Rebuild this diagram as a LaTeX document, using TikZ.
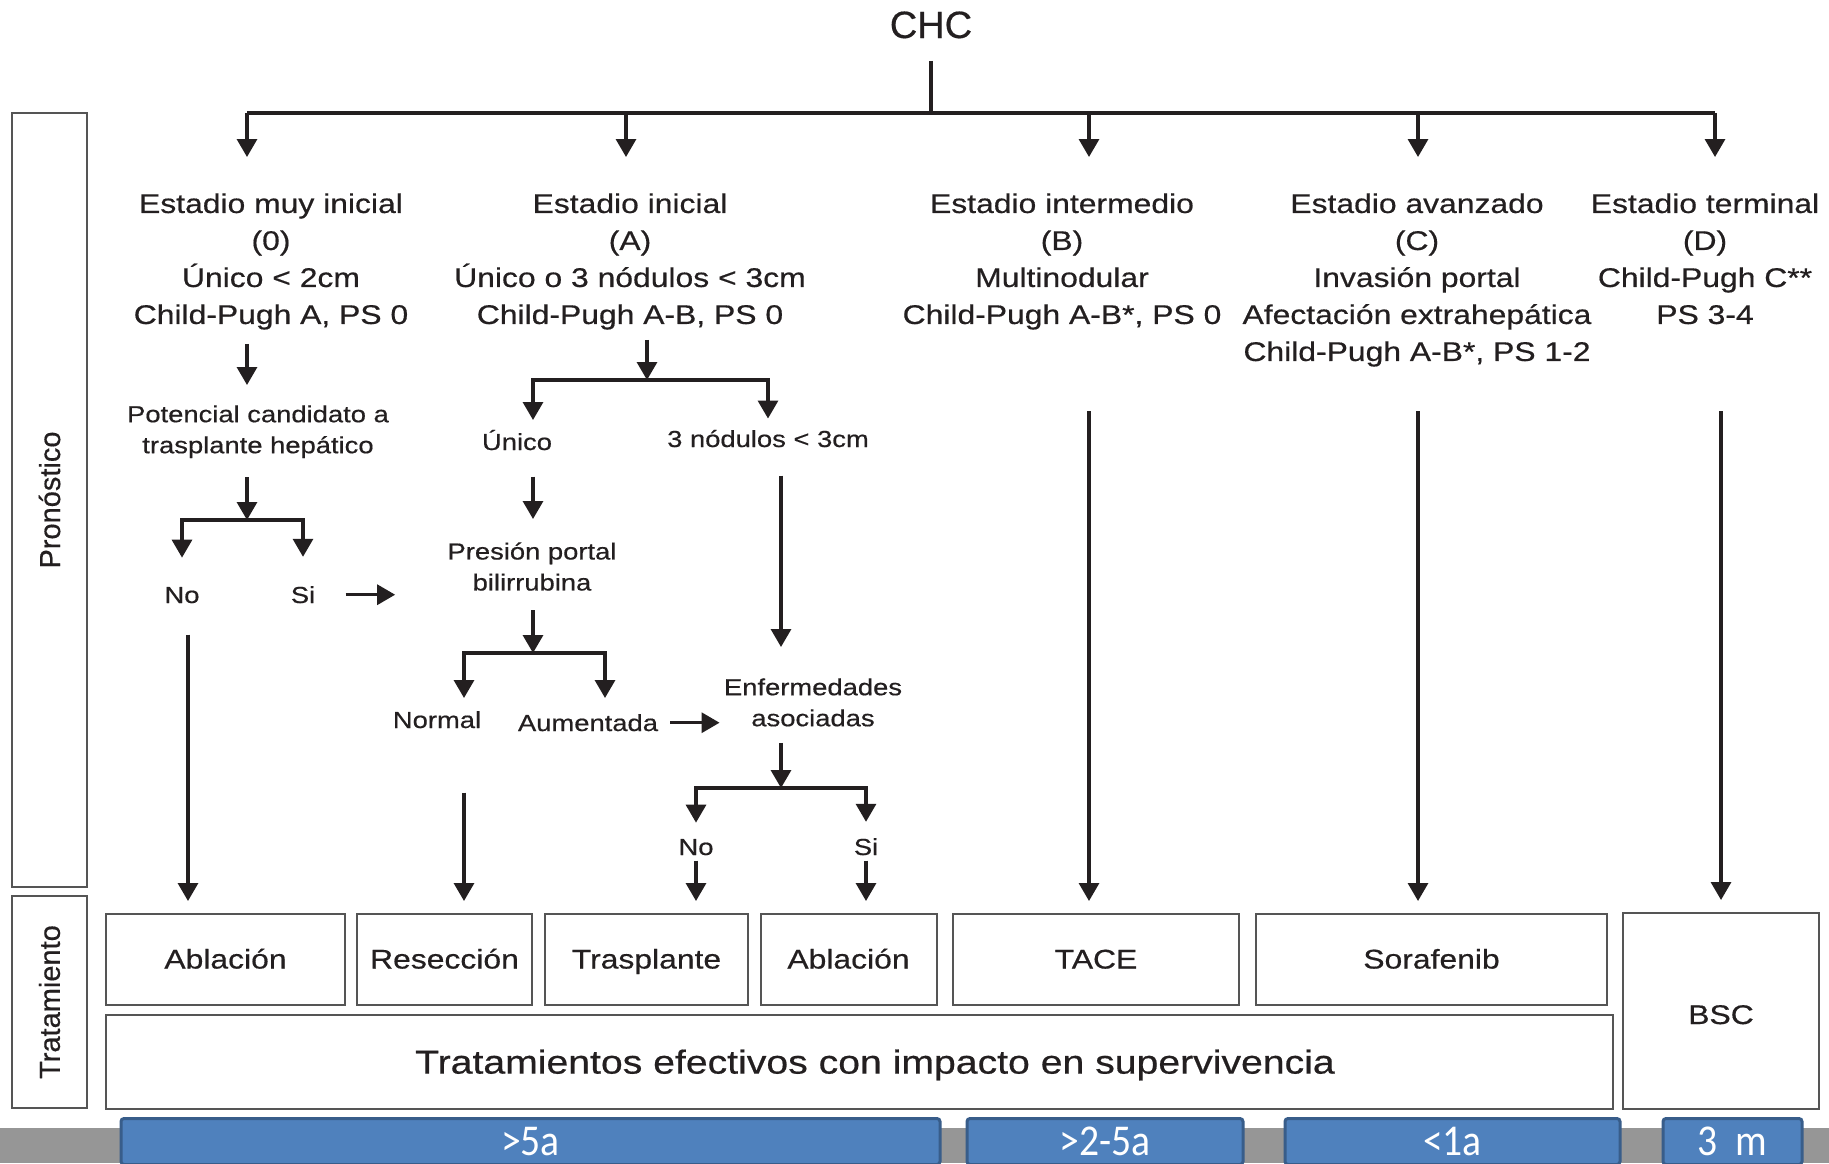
\documentclass[tikz,border=0pt]{standalone}
\usepackage{fontspec}
\setmainfont{Liberation Sans}[FakeStretch=1.18,FakeBold=0.5]
\newfontfamily\plainsans{Liberation Sans}[FakeBold=0.5]
\newfontfamily\bandfont{Carlito}[FakeStretch=0.9]
\usetikzlibrary{arrows.meta,positioning,calc}

\definecolor{ink}{RGB}{35,31,32}
\definecolor{boxgray}{RGB}{85,85,85}
\definecolor{bandgray}{RGB}{150,150,150}
\definecolor{bandblue}{RGB}{79,129,189}
\definecolor{bandedge}{RGB}{56,93,138}

\begin{document}
\begin{tikzpicture}[x=0.5pt,y=-0.5pt,>={Triangle[length=9pt,width=10pt]},
   ln/.style={draw=ink,line width=1.6pt},
   stage/.style={align=center,inner sep=0pt,anchor=north,text=ink,font=\fontsize{13.5}{18.5}\selectfont},
   lbl/.style={align=center,inner sep=0pt,text=ink,font=\fontsize{11.6}{15.5}\selectfont},
   tbox/.style={draw=boxgray,line width=1pt,inner sep=0pt,text=ink,minimum height=45.5pt,text height=10pt,text depth=1pt,font=\fontsize{13.5}{15}\selectfont},
   side/.style={draw=boxgray,line width=1pt,inner sep=0pt,rotate=90,minimum height=37.5pt,text=ink,font=\plainsans\fontsize{14.5}{16}\selectfont},
   band/.style={fill=bandblue,draw=bandedge,line width=1.5pt,rounded corners=1.5pt,inner sep=0pt,anchor=north,minimum height=23pt,text height=14pt,text depth=0pt,text=white,font=\bandfont\fontsize{22}{25}\selectfont}]
  \useasboundingbox (0,0) rectangle (1829,1163);
  \fill[white] (0,0) rectangle (1829,1163);

  % stages
  \node[inner sep=0pt,anchor=base,text=ink,font=\plainsans\fontsize{19}{20}\selectfont] (chc) at (931,38) {CHC};
  \node[stage] (s0) at (271,193) {Estadio muy inicial\\(0)\\Único < 2cm\\Child-Pugh A, PS 0};
  \node[stage] (s1) at (630,193) {Estadio inicial\\(A)\\Único o 3 nódulos < 3cm\\Child-Pugh A-B, PS 0};
  \node[stage] (s2) at (1062,193) {Estadio intermedio\\(B)\\Multinodular\\Child-Pugh A-B*, PS 0};
  \node[stage] (s3) at (1417,193) {Estadio avanzado\\(C)\\Invasión portal\\Afectación extrahepática\\Child-Pugh A-B*, PS 1-2};
  \node[stage] (s4) at (1705,193) {Estadio terminal\\(D)\\Child-Pugh C**\\PS 3-4};

  % decisions
  \node[lbl,anchor=north] (pot) at (258,405) {Potencial candidato a\\trasplante hepático};
  \node[lbl,anchor=base] (no1) at (182,603) {No};
  \node[lbl,anchor=base] (si1) at (303,603) {Si};
  \node[lbl,anchor=base] (unico) at (517,450) {Único};
  \node[lbl,anchor=base] (tres) at (768,447) {3 nódulos < 3cm};
  \node[lbl,anchor=north] (pres) at (532,542) {Presión portal\\bilirrubina};
  \node[lbl,anchor=base] (normal) at (437,728) {Normal};
  \node[lbl,anchor=base] (aum) at (588,731) {Aumentada};
  \node[lbl,anchor=north] (enf) at (813,678) {Enfermedades\\asociadas};
  \node[lbl,anchor=base] (no2) at (696,855) {No};
  \node[lbl,anchor=base] (si2) at (866,855) {Si};

  % treatments
  \node[tbox,minimum width=119.5pt] (abl1) at (225.5,959.5) {Ablación};
  \node[tbox,minimum width=87.5pt] (res) at (444.5,959.5) {Resección};
  \node[tbox,minimum width=101.5pt] (tras) at (646.5,959.5) {Trasplante};
  \node[tbox,minimum width=88pt] (abl2) at (848.5,959.5) {Ablación};
  \node[tbox,minimum width=143pt] (tace) at (1096,959.5) {TACE};
  \node[tbox,minimum width=175.5pt] (sor) at (1431.5,959.5) {Sorafenib};
  \node[tbox,minimum width=98pt,minimum height=98pt,text height=13pt,text depth=0pt] (bsc) at (1721,1011) {BSC};
  \node[tbox,minimum width=753.5pt,minimum height=47pt] (eff) at (859.5,1062) {};
  \node[inner sep=0pt,text=ink,font=\fontsize{16.6}{18}\selectfont] (efftxt) at (875,1065) {Tratamientos efectivos con impacto en supervivencia};
  \node[side,minimum width=387pt] (prono) at (49.5,500) {Pronóstico};
  \node[side,minimum width=106pt] (trat) at (49.5,1002) {Tratamiento};

  % survival band
  \fill[bandgray] (0,1128) rectangle (1829,1163);
  \node[band,minimum width=409.5pt] (t1) at (530.5,1117) {>5a};
  \node[band,minimum width=138pt] (t2) at (1105,1117) {>2-5a};
  \node[band,minimum width=167.5pt] (t3) at (1452.5,1117) {<1a};
  \node[band,minimum width=69.5pt] (t4) at (1732.5,1117) {3~~m};

  % junctions
  \coordinate (top) at (931,113);
  \coordinate (d0) at (247,113);
  \coordinate (d1) at (626,113);
  \coordinate (d2) at (1089,113);
  \coordinate (d3) at (1418,113);
  \coordinate (d4) at (1715,113);
  \coordinate (j0) at (247,520);
  \coordinate (j1) at (647,380);
  \coordinate (j2) at (533,653);
  \coordinate (j3) at (781,788);
  \coordinate (k1) at (533,420);
  \coordinate (k2l) at (464,698);
  \coordinate (k2r) at (605,698);
  \coordinate (lv) at (0,411);

  \draw[ln,shorten <=11pt] (chc.south) -- (top);
  \draw[ln] (d0) -- (d4);
  \foreach \d in {d0,d1,d2,d3,d4}
    \draw[ln,->,shorten >=18pt] (\d) -- (\d |- s0.north);

  % stage 0
  \draw[ln,->,shorten <=7pt,shorten >=10pt] (s0.south -| d0) -- (pot.north -| d0);
  \draw[ln,->,shorten <=9.5pt] (pot.south -| j0) -- (j0);
  \draw[ln,->,shorten >=14.5pt] (j0) -| (no1.north);
  \draw[ln,->,shorten >=14.5pt] (j0) -| (si1.north);
  \draw[ln,->,shorten <=15pt,shorten >=26pt] (si1.east) -- (si1.east -| pres.west);
  \draw[ln,->,shorten <=15.5pt,shorten >=6pt] ([xshift=3pt]no1.south) -- ([xshift=3pt]no1.south |- abl1.north);

  % stage A
  \draw[ln,->,shorten <=5pt] (s1.south -| j1) -- (j1);
  \draw[ln,->] (j1) -| (k1);
  \draw[ln,->,shorten >=5.5pt] (j1) -| (tres.north);
  \draw[ln,->,shorten <=13pt,shorten >=11.5pt] (unico.south -| k1) -- (pres.north -| k1);
  \draw[ln,->,shorten <=9.5pt] (pres.south -| j2) -- (j2);
  \draw[ln,->] (j2) -| (k2l);
  \draw[ln,->] (j2) -| (k2r);
  \draw[ln,->,shorten <=32pt,shorten >=6pt] (normal.south -| k2l) -- (res.north -| k2l);
  \draw[ln,->,shorten <=6pt,shorten >=2pt] (aum.east) -- (aum.east -| enf.west);
  \draw[ln,->,shorten <=14pt,shorten >=15.5pt] (tres.south -| j3) -- (enf.north -| j3);
  \draw[ln,->,shorten <=8pt] (enf.south -| j3) -- (j3);
  \draw[ln,->,shorten >=8pt] (j3) -| (no2.north);
  \draw[ln,->,shorten >=8pt] (j3) -| (si2.north);
  \draw[ln,->,shorten <=2.5pt,shorten >=6pt] (no2.south) -- (no2.south |- tras.north);
  \draw[ln,->,shorten <=2.5pt,shorten >=6pt] (si2.south) -- (si2.south |- abl2.north);

  % stages B, C, D
  \draw[ln,->,shorten >=6pt] (d2 |- lv) -- (d2 |- tace.north);
  \draw[ln,->,shorten >=6pt] (d3 |- lv) -- (d3 |- sor.north);
  \draw[ln,->,shorten >=6pt] (bsc.north |- lv) -- (bsc.north);
\end{tikzpicture}
\end{document}
